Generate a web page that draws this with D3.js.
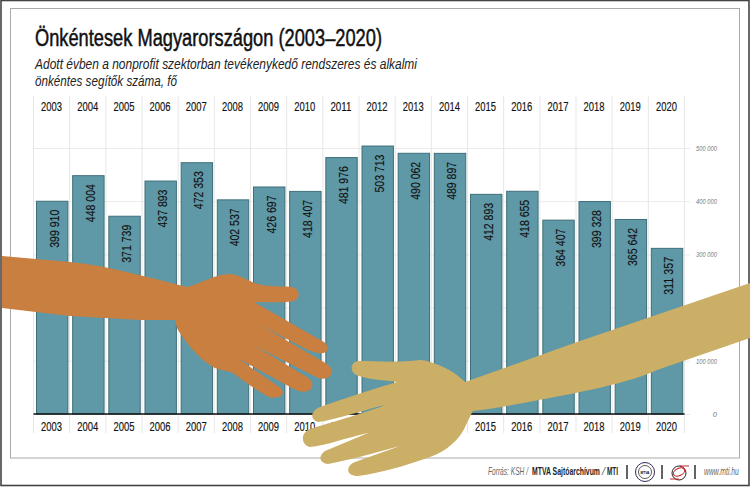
<!DOCTYPE html>
<html><head><meta charset="utf-8">
<script src="https://cdn.jsdelivr.net/npm/d3@7/dist/d3.min.js"></script>
<style>html,body{margin:0;padding:0;background:#fff}svg{display:block}
text{font-family:"Liberation Sans",sans-serif}</style></head>
<body><svg id="c" width="750" height="487"></svg>
<script>
const years=[2003,2004,2005,2006,2007,2008,2009,2010,2011,2012,2013,2014,2015,2016,2017,2018,2019,2020];
const values=[399910,448004,371739,437893,472353,402537,426697,418407,481976,503713,490062,489897,412893,418655,364407,399328,365642,311357];
const valueTicks=[0,100000,200000,300000,400000,500000];
const titleText="Önkéntesek Magyarországon (2003–2020)";
const subtitleLines=["Adott évben a nonprofit szektorban tevékenykedő rendszeres és alkalmi","önkéntes segítők száma, fő"];
const subtitleWidths=[382,142];
const fmt=v=>String(v).replace(/\B(?=(\d{3})+$)/g," ");
const fit=(sel,w)=>sel.attr("textLength",w).attr("lengthAdjust","spacingAndGlyphs");

const svg=d3.select("#c");
// frames
svg.append("rect").attr("x",1).attr("y",.5).attr("width",748).attr("height",485).attr("fill","#fff").attr("stroke","#444").attr("stroke-width",1.6);
svg.append("rect").attr("x",10.5).attr("y",8.5).attr("width",729).attr("height",449.5).attr("fill","#fff").attr("stroke","#aaa").attr("stroke-width",1);

const x=d3.scaleBand().domain(years).range([33.5,684.5]).paddingInner(0).paddingOuter(0);
const y=d3.scaleLinear().domain([0,500000]).range([414,148]);

// grid
const g=svg.append("g");
g.selectAll("line.h").data(valueTicks).join("line").attr("class","h").attr("x1",33).attr("x2",690)
 .attr("y1",d=>y(d)+.5).attr("y2",d=>y(d)+.5).attr("stroke","#e4e4e4").attr("stroke-width",.8);
g.selectAll("line.v").data(d3.range(years.length+1)).join("line").attr("class","v")
 .attr("x1",i=>33.5+i*x.step()).attr("x2",i=>33.5+i*x.step()).attr("y1",96).attr("y2",433)
 .attr("stroke","#e4e4e4").attr("stroke-width",.9);

// value axis
const ax=svg.append("g").attr("transform","translate(717,0)").call(d3.axisLeft(y).tickValues(valueTicks).tickFormat(fmt).tickSize(0).tickPadding(0));
ax.select(".domain").remove();
ax.selectAll("text").attr("font-size",7.5).attr("font-style","italic").attr("fill","#777").style("font-family",'"Liberation Sans"')
 .each(function(d){ if(d>0) fit(d3.select(this),21); });

// bars
svg.append("g").selectAll("rect").data(values).join("rect")
 .attr("x",(d,i)=>x(years[i])+3).attr("width",31.4)
 .attr("y",d=>y(d)).attr("height",d=>y(0)-y(d))
 .attr("fill","#5f98a6").attr("stroke","#3f6f7a").attr("stroke-width",1);

// value labels
svg.append("g").selectAll("text").data(values).join("text")
 .attr("transform",(d,i)=>`translate(${x(years[i])+x.bandwidth()/2+7},${y(d)+8.5}) rotate(-90)`)
 .attr("text-anchor","end").attr("font-size",13.5).attr("fill","#111").attr("stroke","#111").attr("stroke-width",.15)
 .attr("textLength",38).attr("lengthAdjust","spacingAndGlyphs").text(fmt);

// baseline
svg.append("line").attr("x1",33.5).attr("x2",684.5).attr("y1",414).attr("y2",414).attr("stroke","#111").attr("stroke-width",1.4);

// year labels
[110.5,430.5].forEach(yy=>{
 svg.append("g").selectAll("text").data(years).join("text")
  .attr("x",d=>x(d)+x.bandwidth()/2).attr("y",yy).attr("text-anchor","middle").attr("font-size",12.5).attr("fill","#111")
  .attr("stroke","#111").attr("stroke-width",.15)
  .attr("textLength",21).attr("lengthAdjust","spacingAndGlyphs").text(d=>d);
});

// title
fit(svg.append("text").attr("x",35).attr("y",46).attr("font-size",23.5).attr("fill","#111")
 .attr("stroke","#111").attr("stroke-width",.5),347).text(titleText);
svg.selectAll("text.sub").data(subtitleLines).join("text").attr("class","sub")
 .attr("x",35).attr("y",(d,i)=>68.5+i*17).attr("font-size",14).attr("font-style","italic").attr("fill","#222")
 .attr("textLength",(d,i)=>subtitleWidths[i]).attr("lengthAdjust","spacingAndGlyphs").text(d=>d);

// hands (illustration)
svg.append("path").attr("fill","#c97f40").attr("d","M2,256 L70,262 C110,266 150,278 187,287 C200,284 215,274 230,274 C242,275 250,283 262,285 C272,287 285,286 292,287 C300,289 301,298 294,301 C285,303 268,302 254,302 L322,341 C330,345 329,352 323,353 C318,354 314,352 308,350 L260,325 L327,364 C333,368 333,375 327,378 C322,380 318,378 312,375 L253,345 L307,377 C314,381 314,388 308,391 C303,393 298,391 292,388 L237,358 L278,386 C285,390 284,396 278,397 C272,399 268,397 262,393 C250,386 240,378 233,373 C225,370 218,370 213,367 C205,362 198,356 193,350 C186,342 180,334 177,328 L175,320 L140,320 L70,316 L2,308 Z");
svg.append("path").attr("fill","#ccaf66").attr("d","M750,283 L577,342 L465,382 C455,372 445,367 433,363 C428,361 424,360 420,360 C400,363 375,361 358,361 C351,362 349,371 356,375 C370,380 385,380 397,382 C370,390 345,398 320,407 C310,411 310,420 318,422 C335,420 360,411 385,405 C382,407 350,417 310,429 C300,433 301,445 310,447 C325,446 345,438 368,433 L325,451 C318,456 319,463 328,464 C350,460 378,452 400,446 L355,462 C345,466 346,476 358,476 C380,473 405,466 430,457 C445,452 460,440 466,425 C470,417 472,412 473,411 C500,408 540,400 580,392 C610,386 640,378 657,370 L750,338 Z");

// footer: horizontally condensed runs, fitted to the reference's widths
const ft=(s,x0,w,bold)=>{
 const t=svg.append("text").attr("font-size",10)
  .attr("font-style",bold?"normal":"italic").attr("font-weight",bold?"bold":"normal").attr("fill",bold?"#222":"#666").text(s);
 const n=t.node().getComputedTextLength();
 t.attr("transform",`translate(${x0},475) scale(${w/n},1)`);
};
ft("Forrás: KSH /",488,40,false);
ft("MTVA Sajtóarchívum",532,68,true);
ft("/",602,3,false);
ft("MTI",607,11,true);
ft("www.mti.hu",704,35,false);
svg.selectAll("line.sep").data([627,662,695]).join("line").attr("class","sep").attr("x1",d=>d).attr("x2",d=>d).attr("y1",465).attr("y2",479).attr("stroke","#222").attr("stroke-width",1.4);
svg.append("circle").attr("cx",645).attr("cy",472).attr("r",9.5).attr("fill","#fff").attr("stroke","#3a2a55").attr("stroke-width",1);
svg.append("circle").attr("cx",645).attr("cy",472).attr("r",6.5).attr("fill","#fff").attr("stroke","#333").attr("stroke-width",.8);
{const t=svg.append("text").attr("font-size",4).attr("font-weight","bold").attr("text-anchor","middle").text("MTVA");
 t.attr("transform","translate(645,473.5) scale(.8,1)");}
svg.append("circle").attr("cx",679).attr("cy",473).attr("r",7).attr("fill","none").attr("stroke","#222").attr("stroke-width",1);
svg.append("ellipse").attr("cx",679).attr("cy",472).attr("rx",6).attr("ry",3.6).attr("transform","rotate(-25 679 472)").attr("fill","none").attr("stroke","#c8242b").attr("stroke-width",1.1);
svg.append("line").attr("x1",680).attr("x2",689).attr("y1",466).attr("y2",466).attr("stroke","#c8242b").attr("stroke-width",1);
svg.append("line").attr("x1",670).attr("x2",679).attr("y1",479).attr("y2",479).attr("stroke","#c8242b").attr("stroke-width",1);
</script></body></html>
